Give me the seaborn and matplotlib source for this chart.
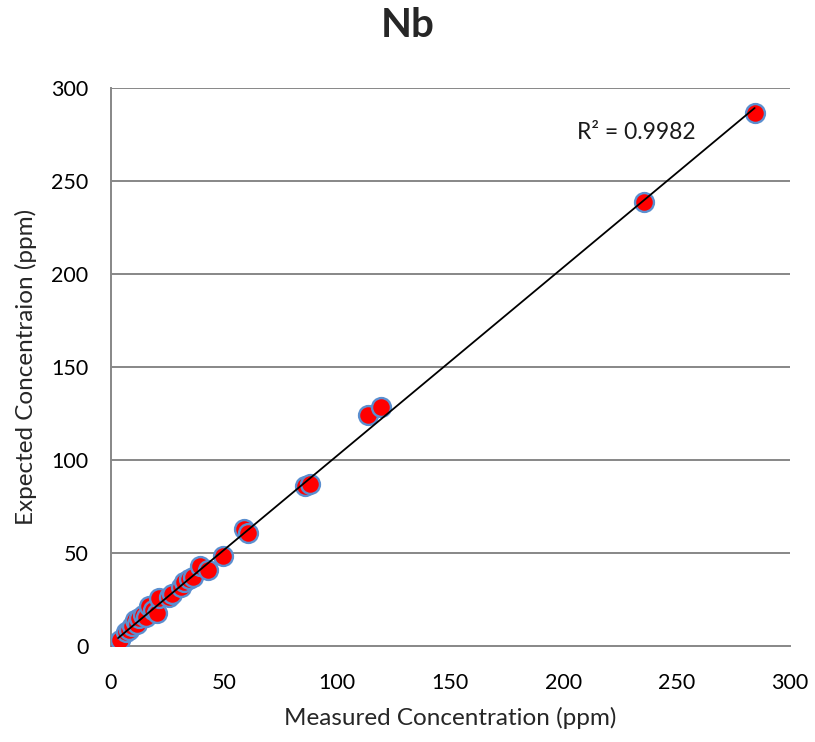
import numpy as np
import pandas as pd
import seaborn as sns
import matplotlib
matplotlib.use("Agg")
import matplotlib.pyplot as plt

# Nb calibration: measured vs expected concentration (ppm)
measured = [3.2, 4.0, 6.5, 8.0, 9.5, 10.5, 11.5, 12.5, 14.0, 15.5, 17.0, 18.5,
            20.5, 21.5, 25.5, 27.0, 31.0, 32.5, 34.5, 36.5, 39.5, 43.0, 49.5,
            59.0, 60.5, 86.0, 88.0, 113.5, 119.5, 235.5, 284.5]
expected = [2.5, 3.5, 7.5, 8.5, 11.0, 14.0, 12.0, 15.0, 17.0, 16.0, 21.5, 19.5,
            18.0, 26.0, 26.5, 28.0, 32.0, 34.5, 36.0, 37.5, 43.0, 41.0, 48.5,
            63.0, 61.0, 86.0, 87.0, 124.5, 128.5, 239.0, 286.5]
r2_label = "R² = 0.9982"
x_ticks = [0, 50, 100, 150, 200, 250, 300]
y_ticks = [0, 50, 100, 150, 200, 250, 300]

df = pd.DataFrame({"Measured": measured, "Expected": expected})

sns.set_theme(style="white")
plt.rcParams["font.family"] = ["Lato", "DejaVu Sans"]

fig = plt.figure(figsize=(8.15, 7.42), dpi=100)
ax = fig.add_axes([0.136, 0.129, 0.833, 0.752])

grid_col = "#878787"
for yv in y_ticks[1:]:
    ax.axhline(yv, color=grid_col, lw=1.4, zorder=0)

sns.scatterplot(data=df, x="Measured", y="Expected", ax=ax, s=185,
                color="#ff0000", edgecolor="#5b8fd0", linewidth=1.7, zorder=3)

# linear trendline across the measured range
slope, icpt = np.polyfit(df["Measured"], df["Expected"], 1)
xs = np.array([df["Measured"].min(), df["Measured"].max()])
ax.plot(xs, slope * xs + icpt, color="black", lw=1.3, zorder=4)

ax.text(232, 276, r2_label, fontsize=16.5, ha="center", va="center", color="#1a1a1a")

ax.set_xlim(0, 300)
ax.set_ylim(0, 300)
ax.set_xticks(x_ticks)
ax.set_yticks(y_ticks)
ax.tick_params(axis="both", labelsize=15.5, length=0, colors="black")
ax.tick_params(axis="x", pad=19)
ax.tick_params(axis="y", pad=16)

for side in ["top", "right"]:
    ax.spines[side].set_visible(False)
for side in ["left", "bottom"]:
    ax.spines[side].set_color(grid_col)
    ax.spines[side].set_linewidth(1.4)

ax.set_xlabel("Measured Concentration (ppm)", fontsize=17.5, labelpad=10)
ax.set_ylabel("Expected Concentraion (ppm)", fontsize=17.5, labelpad=10)
fig.suptitle("Nb", fontsize=29, fontweight="bold", y=0.99, x=0.5)

fig.savefig("out.png", dpi=100, facecolor="white")
